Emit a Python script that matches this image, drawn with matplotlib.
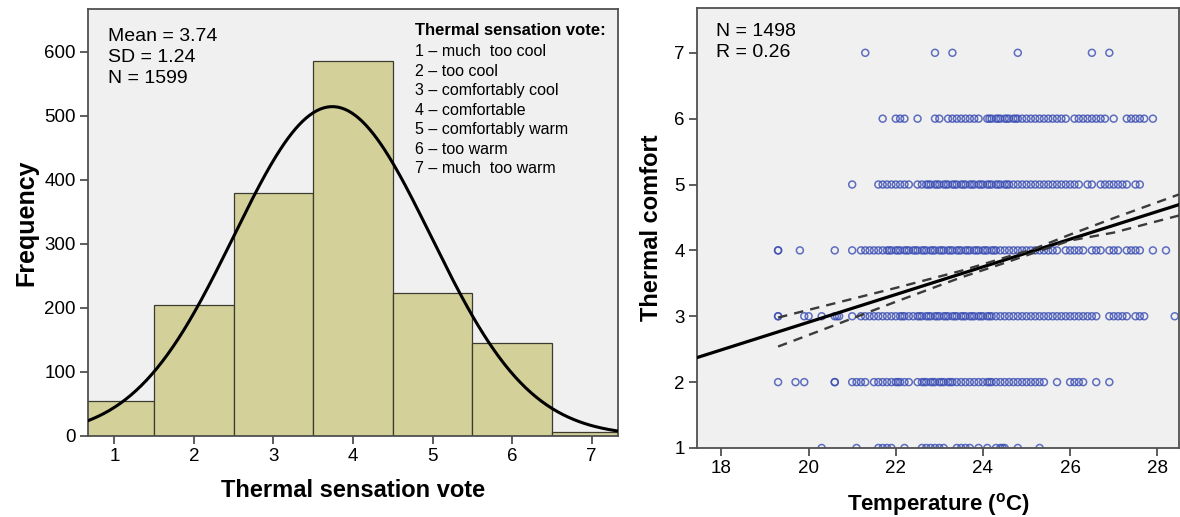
import numpy as np
import matplotlib
matplotlib.use("Agg")
import matplotlib.pyplot as plt

plt.rcParams['font.family'] = ['Liberation Sans', 'DejaVu Sans']

# histogram of thermal sensation votes
votes = [1, 2, 3, 4, 5, 6, 7]
vote_counts = [55, 204, 380, 585, 223, 146, 6]
vote_mean = 3.74
vote_sd = 1.24
vote_n = 1599
vote_names = ["much  too cool", "too cool", "comfortably cool", "comfortable",
              "comfortably warm", "too warm", "much  too warm"]

# thermal comfort vs temperature, one list of temperatures per comfort level
comfort_1 = [20.3, 21.1, 21.6, 21.7, 21.8, 21.9, 22.2, 22.6, 22.7, 22.8, 22.9, 23.0, 23.1,
             23.4, 23.5, 23.6, 23.7, 23.9, 24.1, 24.3, 24.4, 24.45, 24.5, 24.8, 25.3]
comfort_2 = [19.3, 19.7, 19.9, 20.6, 20.6, 21.0, 21.1, 21.2, 21.3, 21.5, 21.6, 21.7, 21.8, 21.9,
             22.0, 22.05, 22.1, 22.2, 22.3, 22.5, 22.6, 22.65, 22.7, 22.8, 22.85, 22.9, 23.0,
             23.05, 23.1, 23.2, 23.25, 23.3, 23.4, 23.5, 23.6, 23.7, 23.8, 23.9, 24.0, 24.1,
             24.15, 24.2, 24.3, 24.4, 24.5, 24.6, 24.7, 24.8, 24.9, 25.0, 25.1, 25.2, 25.3,
             25.4, 25.7, 26.0, 26.1, 26.2, 26.3, 26.6, 26.9]
comfort_3 = [19.3, 19.3, 19.9, 20.0, 20.3, 20.6, 20.65, 20.7, 21.0, 21.2, 21.3, 21.4, 21.5,
             21.6, 21.7, 21.8, 21.9, 22.0, 22.1, 22.15, 22.2, 22.3, 22.4, 22.5, 22.55, 22.6,
             22.7, 22.75, 22.8, 22.9, 22.95, 23.0, 23.1, 23.15, 23.2, 23.3, 23.35, 23.4, 23.5,
             23.55, 23.6, 23.7, 23.75, 23.8, 23.9, 23.95, 24.0, 24.1, 24.15, 24.2, 24.3, 24.4,
             24.5, 24.6, 24.7, 24.8, 24.9, 25.0, 25.1, 25.2, 25.3, 25.4, 25.5, 25.6, 25.7,
             25.8, 25.9, 26.0, 26.1, 26.2, 26.3, 26.4, 26.5, 26.6, 26.9, 27.0, 27.1, 27.2,
             27.3, 27.5, 27.6, 27.7, 28.4]
comfort_4 = [19.3, 19.3, 19.8, 20.6, 21.0, 21.2, 21.3, 21.4, 21.5, 21.6, 21.7, 21.8, 21.85,
             21.9, 22.0, 22.05, 22.1, 22.2, 22.25, 22.3, 22.4, 22.45, 22.5, 22.6, 22.65, 22.7,
             22.8, 22.85, 22.9, 23.0, 23.05, 23.1, 23.2, 23.25, 23.3, 23.4, 23.45, 23.5, 23.6,
             23.65, 23.7, 23.8, 23.85, 23.9, 24.0, 24.05, 24.1, 24.2, 24.25, 24.3, 24.4, 24.5,
             24.6, 24.7, 24.8, 24.9, 25.0, 25.1, 25.2, 25.3, 25.4, 25.5, 25.6, 25.7, 25.9,
             26.0, 26.1, 26.2, 26.3, 26.5, 26.6, 26.7, 26.9, 27.0, 27.1, 27.3, 27.4, 27.5,
             27.6, 27.9, 28.2]
comfort_5 = [21.0, 21.6, 21.7, 21.8, 21.9, 22.0, 22.1, 22.2, 22.3, 22.5, 22.6, 22.7, 22.75,
             22.8, 22.9, 22.95, 23.0, 23.1, 23.15, 23.2, 23.3, 23.35, 23.4, 23.5, 23.55, 23.6,
             23.7, 23.75, 23.8, 23.9, 23.95, 24.0, 24.1, 24.15, 24.2, 24.3, 24.35, 24.4, 24.5,
             24.55, 24.6, 24.7, 24.8, 24.9, 25.0, 25.1, 25.2, 25.3, 25.4, 25.5, 25.6, 25.7,
             25.8, 25.9, 26.0, 26.1, 26.2, 26.4, 26.5, 26.7, 26.8, 26.9, 27.0, 27.1, 27.2,
             27.3, 27.5, 27.6]
comfort_6 = [21.7, 22.0, 22.1, 22.2, 22.5, 22.9, 23.0, 23.2, 23.3, 23.4, 23.5, 23.6, 23.7,
             23.8, 23.9, 24.1, 24.15, 24.2, 24.3, 24.35, 24.4, 24.5, 24.55, 24.6, 24.7, 24.75,
             24.8, 24.9, 25.0, 25.1, 25.2, 25.3, 25.4, 25.5, 25.6, 25.7, 25.8, 25.9, 26.1,
             26.2, 26.3, 26.4, 26.5, 26.6, 26.7, 26.8, 27.0, 27.3, 27.4, 27.5, 27.6, 27.7, 27.9]
comfort_7 = [21.3, 22.9, 23.3, 24.8, 26.5, 26.9]
comfort_n = 1498
comfort_r = 0.26

# fitted line and its 95% band
fit_intercept = -1.29
fit_slope = 0.21
band_t = [19.3, 20.5, 22.0, 23.5, 24.5, 25.2, 26.0, 27.0, 28.5]
band_upper = [2.98, 3.18, 3.43, 3.69, 3.89, 4.03, 4.24, 4.49, 4.85]
band_lower = [2.54, 2.84, 3.22, 3.59, 3.81, 3.97, 4.15, 4.27, 4.53]

bg = '#F0F0F0'
spine_col = '#505050'

fig = plt.figure(figsize=(11.8, 5.17), dpi=100)

# ---- left: histogram with normal curve ----
ax1 = fig.add_axes([0.0746, 0.1567, 0.449, 0.826])
ax1.set_facecolor(bg)
ax1.bar(votes, vote_counts, width=1.0, color='#D4D09A', edgecolor='#3b3b30', linewidth=0.9, zorder=2)
xs = np.linspace(0.668, 7.33, 300)
pdf = vote_n / (vote_sd * np.sqrt(2 * np.pi)) * np.exp(-0.5 * ((xs - vote_mean) / vote_sd) ** 2)
ax1.plot(xs, pdf, color='black', linewidth=2.2, zorder=3)
ax1.set_xlim(0.668, 7.33)
ax1.set_ylim(0, 667)
ax1.set_xticks(votes)
ax1.set_yticks(range(0, 700, 100))
ax1.set_xlabel("Thermal sensation vote", fontsize=17, fontweight='bold', labelpad=10)
ax1.set_ylabel("Frequency", fontsize=18, fontweight='bold', labelpad=4)
ax1.text(0.037, 0.955, "Mean = %.2f\nSD = %.2f\nN = %d" % (vote_mean, vote_sd, vote_n),
         transform=ax1.transAxes, fontsize=14, va='top', ha='left', linespacing=1.3)
ax1.text(0.618, 0.968, "Thermal sensation vote:", transform=ax1.transAxes,
         fontsize=12, fontweight='bold', va='top', ha='left')
ax1.text(0.618, 0.918, "\n".join("%d \u2013 %s" % (v, nm) for v, nm in zip(votes, vote_names)),
         transform=ax1.transAxes, fontsize=11.5, va='top', ha='left', linespacing=1.38)

# ---- right: scatter with regression line ----
ax2 = fig.add_axes([0.5907, 0.1335, 0.4085, 0.851])
ax2.set_facecolor(bg)
levels = [comfort_1, comfort_2, comfort_3, comfort_4, comfort_5, comfort_6, comfort_7]
for lvl, temps in enumerate(levels, start=1):
    ax2.scatter(temps, [lvl] * len(temps), s=25, facecolors='none', edgecolors='#3A4DB3',
                linewidths=1.1, alpha=0.8, zorder=2)
tt = np.array([17.44, 28.5])
ax2.plot(tt, fit_intercept + fit_slope * tt, color='black', linewidth=2.3, zorder=3)
ax2.plot(band_t, band_upper, color='#3a3a3a', linewidth=1.7, linestyle=(0, (4, 3)), zorder=3)
ax2.plot(band_t, band_lower, color='#3a3a3a', linewidth=1.7, linestyle=(0, (4, 3)), zorder=3)
ax2.set_xlim(17.44, 28.5)
ax2.set_ylim(1, 7.68)
ax2.set_xticks(range(18, 29, 2))
ax2.set_yticks(range(1, 8))
ax2.set_xlabel(r"Temperature ($\mathregular{^{o}}$C)", fontsize=16, fontweight='bold', labelpad=10)
ax2.set_ylabel("Thermal comfort", fontsize=17, fontweight='bold', labelpad=8)
ax2.text(0.04, 0.965, "N = %d\nR = %.2f" % (comfort_n, comfort_r), transform=ax2.transAxes,
         fontsize=14, va='top', ha='left', linespacing=1.3)

for ax in (ax1, ax2):
    for sp in ax.spines.values():
        sp.set_color(spine_col)
        sp.set_linewidth(1.3)
    ax.tick_params(direction='out', length=6, width=1.3, color=spine_col, labelsize=13.5, pad=3)

fig.savefig("out.png", dpi=100)
